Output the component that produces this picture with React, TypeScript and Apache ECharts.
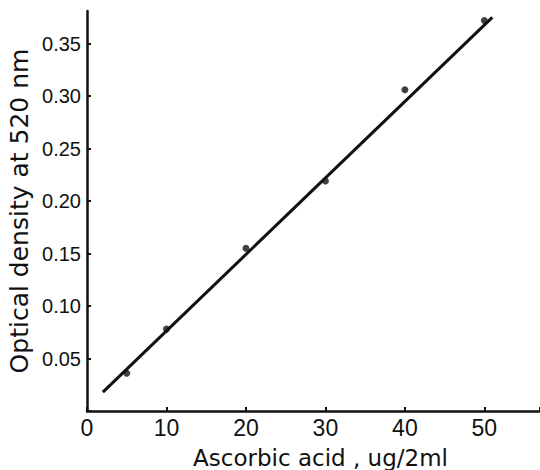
import React, { useEffect, useRef } from "react";
import * as echarts from "echarts";

const concentrations = [5, 10, 20, 30, 40, 50];
const densities = [0.036, 0.078, 0.155, 0.219, 0.306, 0.372];
const fitLine = [
  [2, 0.018],
  [51, 0.375],
];
const xTicks = [0, 10, 20, 30, 40, 50];
const yTicks = [0.05, 0.1, 0.15, 0.2, 0.25, 0.3, 0.35];

export default function App() {
  const ref = useRef<HTMLDivElement>(null);
  useEffect(() => {
    if (!ref.current) return;
    const chart = echarts.init(ref.current, null, { renderer: "svg" });
    const font = "Liberation Sans";
    const titleFont = "DejaVu Sans";
    chart.setOption({
      animation: false,
      backgroundColor: "#ffffff",
      grid: {
        left: 87,
        right: 0,
        top: 11,
        bottom: 59,
        containLabel: false,
        outerBoundsMode: "none",
      },
      xAxis: {
        type: "value",
        min: 0,
        max: 57,
        interval: 10,
        name: "Ascorbic acid , ug/2ml",
        nameLocation: "middle",
        nameGap: 35,
        nameTextStyle: { fontFamily: titleFont, fontSize: 23, color: "#111", verticalAlign: "top", padding: [0, 0, 0, 14] },
        splitLine: { show: false },
        axisLine: { lineStyle: { color: "#111", width: 2.5 } },
        axisTick: { inside: true, length: 4, lineStyle: { color: "#111", width: 2 } },
        axisLabel: {
          fontFamily: font,
          fontSize: 23,
          color: "#111",
          margin: 5,
          formatter: (v: number) => (xTicks.includes(v) ? String(v) : ""),
        },
      },
      yAxis: {
        type: "value",
        min: 0,
        max: 0.381,
        interval: 0.05,
        name: "Optical density at 520 nm",
        nameLocation: "middle",
        nameGap: 55,
        nameMoveOverlap: false,
        nameTextStyle: { fontFamily: titleFont, fontSize: 25, color: "#111" },
        splitLine: { show: false },
        axisLine: { lineStyle: { color: "#111", width: 2.5 } },
        axisTick: { inside: true, length: 4, lineStyle: { color: "#111", width: 2 } },
        axisLabel: {
          fontFamily: font,
          fontSize: 20,
          color: "#111",
          margin: 6,
          showMaxLabel: false,
          formatter: (v: number) => {
            const r = Math.round(v * 100) / 100;
            return yTicks.some((t) => Math.abs(t - r) < 1e-6) ? r.toFixed(2) : "";
          },
        },
      },
      series: [
        {
          type: "line",
          data: fitLine,
          symbol: "none",
          lineStyle: { color: "#111", width: 3 },
          z: 2,
        },
        {
          type: "scatter",
          data: concentrations.map((c, i) => [c, densities[i]]),
          symbol: "circle",
          symbolSize: 7,
          itemStyle: { color: "#111" },
          z: 3,
        },
      ],
    });
    return () => chart.dispose();
  }, []);
  return (
    <div
      ref={ref}
      style={{ position: "absolute", left: 0, top: 0, width: 540, height: 470 }}
    />
  );
}
